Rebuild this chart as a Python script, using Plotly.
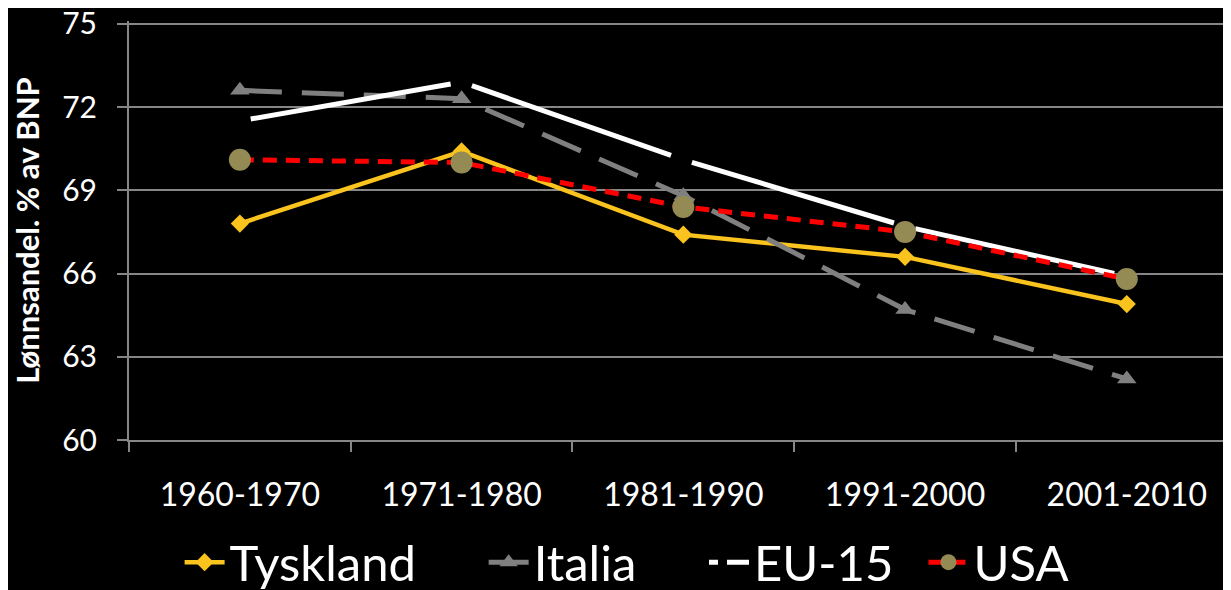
import plotly.graph_objects as go

categories = ["1960-1970", "1971-1980", "1981-1990", "1991-2000", "2001-2010"]
tyskland = [67.8, 70.4, 67.4, 66.6, 64.9]
italia = [72.6, 72.3, 68.8, 64.7, 62.2]
eu15 = [71.5, 72.9, 70.1, 67.7, 65.9]
usa = [70.1, 70.0, 68.4, 67.5, 65.8]
y_ticks = [60, 63, 66, 69, 72, 75]

FONT = "Lato, 'Open Sans', sans-serif"
GRID = "#868686"
NB = "\u00a0"

fig = go.Figure()

fig.add_trace(go.Scatter(
    x=categories, y=tyskland, name="Tyskland" + NB * 5, mode="lines+markers",
    line=dict(color="#FAC31E", width=4.5),
    marker=dict(symbol="diamond", size=14, color="#FAC31E"),
))
fig.add_trace(go.Scatter(
    x=categories, y=italia, name="Italia" + NB * 5, mode="lines+markers",
    line=dict(color="#808080", width=5, dash="42px,20px"),
    marker=dict(symbol="triangle-up", size=17, color="#808080"),
))
fig.add_trace(go.Scatter(
    x=categories, y=eu15, name="EU-15", mode="lines", showlegend=False,
    line=dict(color="#FFFFFF", width=5,
              dash="0px,11px,203px,22px,211px,22px,211px,22px,204px,11px"),
))
fig.add_trace(go.Scatter(
    x=[None], y=[None], name="EU-15" + NB * 2, mode="lines",
    line=dict(color="#FFFFFF", width=5, dash="9px,9px,22px,9px"),
))
fig.add_trace(go.Scatter(
    x=categories, y=usa, name="USA", mode="lines+markers",
    line=dict(color="#FF0000", width=5, dash="14px,9px"),
    marker=dict(symbol="circle", size=22, color="#948A54"),
))

fig.update_layout(
    width=1223, height=582,
    paper_bgcolor="#000000", plot_bgcolor="#000000",
    margin=dict(l=121, r=0, t=13, b=150, autoexpand=False),
    font=dict(family=FONT, color="#FFFFFF"),
    showlegend=True,
    legend=dict(
        orientation="h", x=0.452, xanchor="center", y=-0.2, yanchor="top",
        font=dict(size=49, color="#FFFFFF", family=FONT),
        itemwidth=40, tracegroupgap=0,
        bgcolor="rgba(0,0,0,0)",
    ),
)

fig.update_xaxes(
    type="category", range=[-0.5, 4.47], automargin=False,
    showgrid=False, showline=True, linecolor=GRID, linewidth=2,
    ticks="outside", tickson="boundaries", ticklen=10, tickwidth=2, tickcolor=GRID,
    tickfont=dict(size=32, color="#FFFFFF", family=FONT),
    ticklabelstandoff=26,
    zeroline=False,
)
fig.update_yaxes(
    range=[60, 75.1], tickvals=y_ticks, automargin=False,
    ticklabeloverflow="allow",
    showgrid=True, gridcolor=GRID, gridwidth=2,
    showline=True, linecolor=GRID, linewidth=2,
    ticks="outside", ticklen=10, tickwidth=2, tickcolor=GRID,
    tickfont=dict(size=30, color="#FFFFFF", family=FONT),
    ticklabelstandoff=14,
    zeroline=False,
    title=dict(text="<b>Lønnsandel. % av BNP</b>",
               font=dict(size=31, color="#FFFFFF", family=FONT), standoff=22),
)

fig.write_html("out.html")
